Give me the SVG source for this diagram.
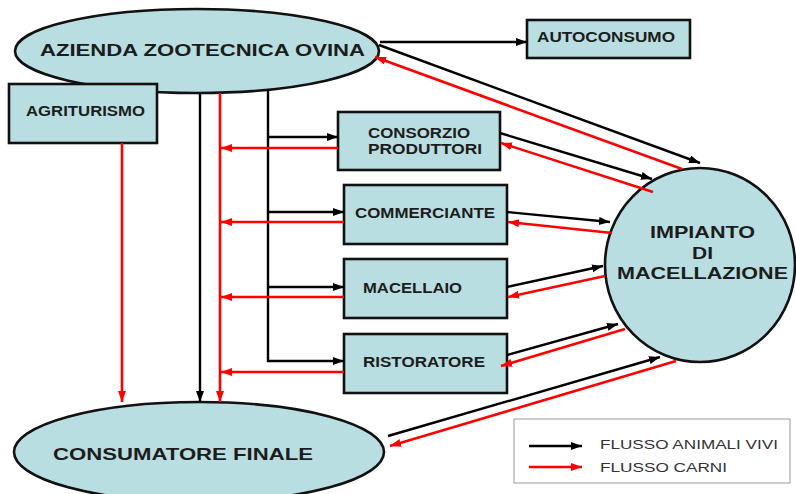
<svg xmlns="http://www.w3.org/2000/svg" width="796" height="494" viewBox="0 0 796 494">
<style>
.node{fill:#b9dee1;stroke:#111;stroke-width:2.6}
.lbl{font-family:"Liberation Sans",Arial,sans-serif;font-weight:bold;fill:#1c1c1c;font-size:14px}
.big{font-size:16.5px}
.blk{stroke:#000;stroke-width:2.4;fill:none;marker-end:url(#ab)}
.red{stroke:#f00;stroke-width:2.6;fill:none;marker-end:url(#ar)}
.plain{stroke:#000;stroke-width:2.4;fill:none}
.leg{font-family:"Liberation Sans",Arial,sans-serif;font-size:13px;fill:#333}
</style>
<defs>
<marker id="ab" markerUnits="userSpaceOnUse" markerWidth="12" markerHeight="10" refX="11" refY="4" orient="auto"><path d="M0,0 L11,4 L0,8 Z" fill="#000"/></marker>
<marker id="ar" markerUnits="userSpaceOnUse" markerWidth="12" markerHeight="10" refX="11" refY="4" orient="auto"><path d="M0,0 L11,4 L0,8 Z" fill="#f00"/></marker>
</defs>
<rect width="796" height="494" fill="#fff"/>
<g id="azienda"><ellipse class="node" cx="197" cy="51" rx="182" ry="42"/><text class="lbl big" x="40" y="56" textLength="325" lengthAdjust="spacingAndGlyphs">AZIENDA ZOOTECNICA OVINA</text></g>
<g id="agriturismo"><rect class="node" x="9" y="84" width="148" height="59"/><text class="lbl" x="26" y="116" textLength="119" lengthAdjust="spacingAndGlyphs">AGRITURISMO</text></g>
<g id="autoconsumo"><rect class="node" x="527" y="20" width="163" height="38"/><text class="lbl" x="537" y="42" textLength="138" lengthAdjust="spacingAndGlyphs">AUTOCONSUMO</text></g>
<g id="consorzio"><rect class="node" x="338" y="112" width="162" height="58"/><text class="lbl" x="368" y="138" textLength="102" lengthAdjust="spacingAndGlyphs">CONSORZIO</text><text class="lbl" x="368" y="154" textLength="114" lengthAdjust="spacingAndGlyphs">PRODUTTORI</text></g>
<g id="commerciante"><rect class="node" x="344" y="185" width="163" height="59"/><text class="lbl" x="355" y="218" textLength="140" lengthAdjust="spacingAndGlyphs">COMMERCIANTE</text></g>
<g id="macellaio"><rect class="node" x="344" y="259" width="163" height="59"/><text class="lbl" x="363" y="293" textLength="99" lengthAdjust="spacingAndGlyphs">MACELLAIO</text></g>
<g id="ristoratore"><rect class="node" x="344" y="334" width="163" height="59"/><text class="lbl" x="363" y="367" textLength="122" lengthAdjust="spacingAndGlyphs">RISTORATORE</text></g>
<g id="impianto"><ellipse class="node" cx="700" cy="265" rx="95" ry="97"/><text class="lbl big" x="650" y="238" textLength="105" lengthAdjust="spacingAndGlyphs">IMPIANTO</text><text class="lbl big" x="692" y="259" textLength="21" lengthAdjust="spacingAndGlyphs">DI</text><text class="lbl big" x="617" y="279" textLength="171" lengthAdjust="spacingAndGlyphs">MACELLAZIONE</text></g>
<g id="consumatore"><ellipse class="node" cx="199" cy="452" rx="185" ry="50"/><text class="lbl big" x="53" y="460" textLength="260" lengthAdjust="spacingAndGlyphs">CONSUMATORE FINALE</text></g>
<g id="connectors">
<line class="blk" x1="380" y1="42" x2="527" y2="42"/>
<line class="blk" x1="379" y1="45" x2="700" y2="163"/>
<line class="blk" x1="200" y1="93" x2="200" y2="402"/>
<path class="blk" d="M268,90 V361 H344"/>
<line class="blk" x1="268" y1="137" x2="338" y2="137"/>
<line class="blk" x1="268" y1="212" x2="344" y2="212"/>
<line class="blk" x1="268" y1="287" x2="344" y2="287"/>
<line class="blk" x1="500" y1="133" x2="652" y2="179"/>
<line class="blk" x1="507" y1="212" x2="610" y2="222"/>
<line class="blk" x1="507" y1="287" x2="603" y2="266"/>
<line class="blk" x1="507" y1="355" x2="618" y2="324"/>
<line class="blk" x1="388" y1="436" x2="660" y2="357"/>
<line class="red" x1="682" y1="169" x2="375" y2="57"/>
<line class="red" x1="220" y1="93" x2="220" y2="402"/>
<line class="red" x1="122" y1="143" x2="122" y2="402"/>
<line class="red" x1="338" y1="148" x2="221" y2="148"/>
<line class="red" x1="344" y1="222" x2="221" y2="222"/>
<line class="red" x1="344" y1="297" x2="221" y2="297"/>
<line class="red" x1="344" y1="372" x2="221" y2="372"/>
<line class="red" x1="653" y1="192" x2="501" y2="143"/>
<line class="red" x1="612" y1="233" x2="508" y2="222"/>
<line class="red" x1="605" y1="276" x2="508" y2="297"/>
<line class="red" x1="625" y1="329" x2="501" y2="366"/>
<line class="red" x1="676" y1="361" x2="390" y2="446"/>
</g>
<g id="legend">
<rect x="514" y="419" width="276" height="64" fill="#fff" stroke="#999" stroke-width="1"/>
<line class="blk" x1="529" y1="446" x2="582" y2="446"/>
<text class="leg" x="600" y="449" textLength="178" lengthAdjust="spacingAndGlyphs">FLUSSO ANIMALI VIVI</text>
<line class="red" x1="529" y1="467" x2="582" y2="467"/>
<text class="leg" x="600" y="472" textLength="127" lengthAdjust="spacingAndGlyphs">FLUSSO CARNI</text>
</g>
</svg>
